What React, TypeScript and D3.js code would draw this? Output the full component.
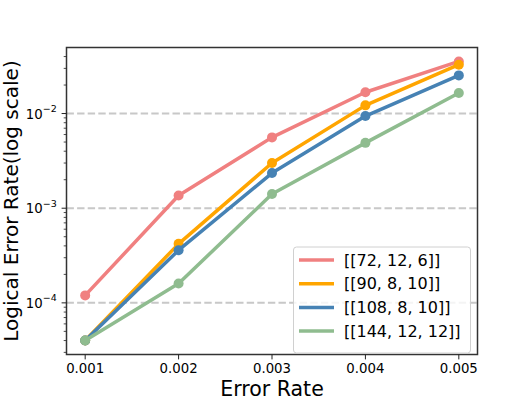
import * as d3 from 'd3'

const W = 531, H = 399
const m = { left: 66.5, right: 477.5, top: 47.5, bottom: 354.5 }

const errorRates = [0.001, 0.002, 0.003, 0.004, 0.005]
const xTicks = [0.001, 0.002, 0.003, 0.004, 0.005]
const yMajor = [-4, -3, -2]

const codes = ['[[72, 12, 6]]', '[[90, 8, 10]]', '[[108, 8, 10]]', '[[144, 12, 12]]']
const colors = ['#F08080', '#FFA500', '#4682B4', '#8FBC8F']
const red = [1.2e-4, 1.36e-3, 5.6e-3, 0.0168, 0.0355]
const orange = [4.0e-5, 4.2e-4, 3.0e-3, 0.0122, 0.0328]
const blue = [4.0e-5, 3.6e-4, 2.35e-3, 0.0094, 0.0253]
const green = [4.0e-5, 1.6e-4, 1.41e-3, 0.0049, 0.0165]
const series = [red, orange, blue, green]

const font = 'DejaVu Sans, sans-serif'

export default function App() {
  const x = d3.scaleLinear().domain([0.0008, 0.0052]).range([m.left, m.right])

  // matplotlib style 5% margin in log space
  const all = series.flat()
  const lo = Math.log10(d3.min(all)!), hi = Math.log10(d3.max(all)!)
  const pad = (hi - lo) * 0.05
  const y = d3.scaleLog()
    .domain([Math.pow(10, lo - pad), Math.pow(10, hi + pad)])
    .range([m.bottom, m.top])

  const [y0, y1] = y.domain()
  const minor: number[] = []
  for (let e = -5; e <= -1; e++) {
    for (let k = 2; k <= 9; k++) {
      const v = k * Math.pow(10, e)
      if (v >= y0 && v <= y1) minor.push(v)
    }
  }

  const line = d3.line<number>()
    .x((_, i) => x(errorRates[i]))
    .y(d => y(d))

  const lg = { x: 293.5, y: 247, w: 177, h: 106 }

  return (
    <svg width={W} height={H} style={{ position: 'absolute', left: 0, top: 0 }} fontFamily={font}>
      <rect width={W} height={H} fill="white" />
      {/* grid */}
      {yMajor.map(e => (
        <line key={e} x1={m.left} x2={m.right} y1={y(Math.pow(10, e))} y2={y(Math.pow(10, e))}
          stroke="#c8c8c8" strokeWidth={2} strokeDasharray="7.4,3.2" />
      ))}
      {/* series */}
      {series.map((s, i) => (
        <g key={i}>
          <path d={line(s)!} fill="none" stroke={colors[i]} strokeWidth={3.5} strokeLinejoin="round" strokeLinecap="round" />
          {s.map((v, j) => (
            <circle key={j} cx={x(errorRates[j])} cy={y(v)} r={5} fill={colors[i]} />
          ))}
        </g>
      ))}
      {/* spines */}
      <rect x={m.left} y={m.top} width={m.right - m.left} height={m.bottom - m.top}
        fill="none" stroke="#333" strokeWidth={1.5} />
      {/* x ticks */}
      {xTicks.map(t => (
        <g key={t}>
          <line x1={x(t)} x2={x(t)} y1={m.bottom} y2={m.bottom + 4.9} stroke="#222" strokeWidth={1} />
          <text x={x(t)} y={373.3} textAnchor="middle" fontSize={13.3} fill="#000">
            {d3.format('.3f')(t)}
          </text>
        </g>
      ))}
      {/* y ticks */}
      {yMajor.map(e => (
        <g key={e}>
          <line x1={m.left - 4.9} x2={m.left} y1={y(Math.pow(10, e))} y2={y(Math.pow(10, e))} stroke="#222" strokeWidth={1} />
          <text x={m.left - 9.8} y={y(Math.pow(10, e)) + 5} textAnchor="end" fontSize={13.3} fill="#000">
            10<tspan fontSize={9.5} dy={-6.5}>{'\u2212' + Math.abs(e)}</tspan>
          </text>
        </g>
      ))}
      {minor.map(v => (
        <line key={v} x1={m.left - 2.8} x2={m.left} y1={y(v)} y2={y(v)} stroke="#222" strokeWidth={0.8} />
      ))}
      {/* axis labels */}
      <text x={(m.left + m.right) / 2} y={395.5} textAnchor="middle" fontSize={20.5} fill="#000">Error Rate</text>
      <text transform={`translate(17.5,${(m.top + m.bottom) / 2}) rotate(-90)`} textAnchor="middle" fontSize={20} fill="#000">
        Logical Error Rate(log scale)
      </text>
      {/* legend */}
      <rect x={lg.x} y={lg.y} width={lg.w} height={lg.h} rx={3} fill="white" fillOpacity={0.8} stroke="#d0d0d0" strokeWidth={1} />
      {codes.map((c, i) => {
        const cy = 260 + i * 23.7
        return (
          <g key={c}>
            <line x1={299} x2={334} y1={cy} y2={cy} stroke={colors[i]} strokeWidth={3.5} />
            <text x={344} y={cy} dy="0.36em" fontSize={16} fill="#000">{c}</text>
          </g>
        )
      })}
    </svg>
  )
}
